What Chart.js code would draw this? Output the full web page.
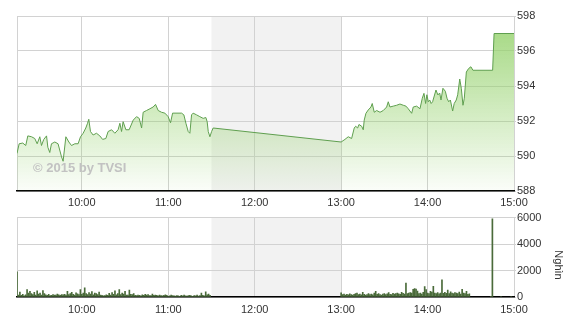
<!DOCTYPE html>
<html>
<head>
<meta charset="utf-8">
<script src="https://cdn.jsdelivr.net/npm/chart.js@4.4.0/dist/chart.umd.min.js"></script>
<style>
  html, body { margin: 0; padding: 0; background: #fff; }
  #wrap { position: relative; width: 570px; height: 320px; }
  #priceChart { position: absolute; left: 0; top: 0; }
  #volChart { position: absolute; left: 0; top: 210px; }
</style>
</head>
<body>
<div id="wrap">
  <canvas id="priceChart" width="570" height="210"></canvas>
  <canvas id="volChart" width="570" height="110"></canvas>
</div>
<script>
// session range and ticks (minutes of day shown as HH:MM)
const sessionStart = "09:15";
const sessionEnd = "15:00";
const hourTicks = ["10:00", "11:00", "12:00", "13:00", "14:00", "15:00"];
const lunchBreak = ["11:30", "13:00"];

const priceTicks = [588, 590, 592, 594, 596, 598];
const volumeTicks = [0, 2000, 4000, 6000];

// price line
const priceTimes = [
  "09:15:00","09:16:30","09:19:00","09:21:05","09:22:30","09:25:05","09:27:20","09:29:00","09:30:50","09:32:00",
  "09:33:35","09:35:30","09:36:25","09:37:45","09:38:55","09:41:15","09:43:30","09:45:55","09:47:00","09:48:55",
  "09:51:00","09:52:50","09:55:10","09:57:25","09:59:05","10:00:55","10:02:45","10:03:58","10:04:50","10:06:00",
  "10:07:50","10:10:10","10:12:30","10:14:25","10:16:40","10:18:15","10:20:40","10:22:55","10:25:10","10:26:25",
  "10:27:35","10:28:40","10:30:35","10:32:50","10:35:40","10:38:00","10:39:50","10:41:30","10:42:35","10:44:55",
  "10:47:15","10:49:30","10:51:10","10:53:00","10:55:20","10:57:40","10:59:55","11:01:35","11:03:00","11:09:15",
  "11:10:50","11:12:15","11:13:50","11:15:00","11:16:10","11:17:15","11:19:40","11:21:55","11:24:15","11:26:05",
  "11:27:00","11:27:45","11:28:55","11:30:05","11:31:10",
  "13:00:00","13:02:40","13:04:56","13:07:17","13:09:06","13:10:05","13:11:28","13:12:22","13:14:15","13:15:21",
  "13:16:02","13:17:13","13:18:49","13:20:42","13:21:36","13:23:00","13:24:40","13:27:00","13:29:15","13:31:35",
  "13:32:43","13:33:53","13:36:10","13:38:32","13:40:50","13:43:08","13:45:00","13:46:36","13:48:58","13:50:04",
  "13:52:26","13:54:44","13:56:20","13:57:30","13:58:40","13:59:30","14:00:30","14:01:30","14:02:30","14:03:30",
  "14:05:50","14:07:10","14:08:25","14:09:20","14:10:40","14:12:20","14:13:30","14:14:40","14:15:50","14:17:25",
  "14:18:30","14:19:55","14:20:55","14:22:20","14:23:25","14:24:35","14:25:30","14:26:55","14:28:30","14:30:05",
  "14:31:30","14:45:10","14:46:10","15:00:00"
];
const prices = [
  590.15,590.7,590.74,590.6,591.15,591.1,591.0,590.7,591.1,590.6,
  590.95,591.15,590.5,590.2,590.7,590.8,590.7,589.95,589.7,591.1,
  590.8,590.6,590.7,590.7,591.1,591.3,591.6,591.87,592.1,591.4,
  591.2,591.3,591.15,590.95,591.0,591.4,591.5,591.3,591.5,591.87,
  591.4,591.96,591.5,591.5,592.05,592.25,592.15,591.6,592.5,592.6,
  592.7,592.8,592.95,592.6,592.5,592.45,592.25,591.9,592.45,592.45,
  592.35,591.87,591.4,591.3,592.35,592.45,592.35,592.25,592.15,592.2,
  591.96,591.4,591.1,591.4,591.6,
  590.8,590.95,591.1,591.0,591.6,591.7,591.6,591.8,591.7,591.5,
  592.05,592.44,592.63,592.8,593.0,592.5,592.6,592.5,592.6,592.8,
  593.1,592.8,592.85,592.9,592.97,592.9,592.85,592.7,592.44,592.8,
  592.85,592.7,593.3,593.58,593.0,593.5,593.1,593.2,593.0,593.1,
  593.77,593.49,593.6,593.2,593.87,593.7,593.3,593.1,593.2,592.57,
  593.0,593.2,593.5,594.4,593.87,592.9,593.3,594.8,595.0,595.1,
  594.9,594.9,597.0,597.0
];

// volume, one bar per minute (thousands)
const morningStart = "09:15";
const morningVolumes = [
  1900,150,380,120,200,90,160,560,300,420,
  260,180,350,140,470,220,300,150,480,250,
  160,120,200,110,130,180,140,150,220,160,
  130,190,170,210,150,420,180,260,350,200,
  150,320,240,180,560,200,300,700,250,180,
  340,220,410,160,300,260,180,380,140,120,
  90,110,160,120,280,150,330,200,460,170,
  250,560,180,300,220,420,150,140,520,200,
  180,260,130,110,150,120,90,160,130,200,
  140,180,110,100,220,130,150,120,90,140,
  110,80,130,160,120,60,90,140,100,80,
  70,110,90,60,120,80,150,90,70,100,
  130,80,60,110,90,140,70,100,300,120,
  90,400,160,220,130
];
const afternoonStart = "13:00";
const afternoonVolumes = [
  320,180,220,140,200,160,240,180,150,210,
  260,300,180,220,160,350,200,140,190,250,
  180,230,160,300,420,200,260,180,150,220,
  260,190,240,330,210,180,280,220,260,300,
  240,200,350,280,220,1050,260,300,340,300,
  580,640,600,450,260,300,220,350,780,560,
  300,260,420,380,800,300,260,340,240,300,
  1300,280,360,280,520,250,400,300,260,340,
  300,260,380,220,580,300,260,420,200,240
];
const closingTimes = ["14:44", "14:45", "14:51", "14:58"];
const closingVolumes = [50, 5900, 40, 40];

function toMin(t) {
  const p = t.split(":").map(Number);
  return p[0] * 60 + p[1] + (p[2] || 0) / 60;
}
function fmt(v) {
  const h = Math.floor(v / 60), m = Math.round(v % 60);
  return h + ":" + String(m).padStart(2, "0");
}

const xMin = toMin(sessionStart), xMax = toMin(sessionEnd);
const FONT = { family: "Arial, 'Liberation Sans', sans-serif", size: 11 };
const GRID = "#d2d2d2";

const pricePoints = priceTimes.map((t, i) => ({ x: toMin(t), y: prices[i] }));
const volPoints = [];
morningVolumes.forEach((v, i) => volPoints.push({ x: toMin(morningStart) + i, y: v }));
afternoonVolumes.forEach((v, i) => volPoints.push({ x: toMin(afternoonStart) + i, y: v }));
closingTimes.forEach((t, i) => volPoints.push({ x: toMin(t), y: closingVolumes[i] }));

const lunchBand = {
  id: "lunchBand",
  beforeDraw(chart) {
    const { ctx, chartArea: a, scales: { x } } = chart;
    const x0 = x.getPixelForValue(toMin(lunchBreak[0]));
    const x1 = x.getPixelForValue(toMin(lunchBreak[1]));
    ctx.save();
    ctx.fillStyle = "#f2f2f2";
    ctx.fillRect(x0, a.top, x1 - x0, a.bottom - a.top);
    ctx.restore();
  }
};

const watermark = {
  id: "watermark",
  afterDatasetsDraw(chart) {
    const ctx = chart.ctx;
    ctx.save();
    ctx.font = "bold 13px Arial, 'Liberation Sans', sans-serif";
    ctx.fillStyle = "#c2c2c2";
    ctx.textBaseline = "middle";
    ctx.fillText("\u00a9 2015 by TVSI", 33, 168);
    ctx.restore();
  }
};

const unitLabel = {
  id: "unitLabel",
  afterDraw(chart) {
    const ctx = chart.ctx;
    ctx.save();
    ctx.translate(558, 55);
    ctx.rotate(Math.PI / 2);
    ctx.font = "11px Arial, 'Liberation Sans', sans-serif";
    ctx.fillStyle = "#333";
    ctx.textAlign = "center";
    ctx.textBaseline = "middle";
    ctx.fillText("Nghìn", 0, 0);
    ctx.restore();
  }
};

function xScale(height, pad) {
  return {
    type: "linear",
    min: xMin,
    max: xMax,
    offset: false,
    afterBuildTicks: axis => {
      axis.ticks = [xMin].concat(hourTicks.map(toMin)).map(v => ({ value: v }));
    },
    afterFit: axis => { axis.height = height; },
    grid: { color: GRID, drawTicks: false, offset: false },
    border: { color: "#000", width: 1.5 },
    ticks: {
      font: FONT,
      color: "#333",
      padding: pad,
      maxRotation: 0,
      autoSkip: false,
      callback: v => (v === xMin ? "" : fmt(v))
    }
  };
}

function yScale(ticks) {
  return {
    position: "right",
    min: ticks[0],
    max: ticks[ticks.length - 1],
    afterBuildTicks: axis => { axis.ticks = ticks.map(v => ({ value: v })); },
    afterFit: axis => { axis.width = 56; },
    grid: { color: GRID, tickLength: 2 },
    border: { display: false },
    ticks: { font: FONT, color: "#333", padding: 1, callback: v => String(v) }
  };
}

new Chart(document.getElementById("priceChart"), {
  type: "line",
  data: {
    datasets: [{
      data: pricePoints,
      borderColor: "#5f9f4f",
      borderWidth: 1,
      pointRadius: 0,
      tension: 0,
      fill: "start",
      backgroundColor: ctx => {
        const a = ctx.chart.chartArea;
        if (!a) return "rgba(150,210,110,0.3)";
        const g = ctx.chart.ctx.createLinearGradient(0, a.top, 0, a.bottom);
        g.addColorStop(0, "rgba(150,210,110,0.9)");
        g.addColorStop(1, "rgba(150,210,110,0.04)");
        return g;
      }
    }]
  },
  options: {
    responsive: false,
    animation: false,
    layout: { padding: { left: 17, top: 16, right: 0, bottom: 0 } },
    plugins: { legend: { display: false }, tooltip: { enabled: false } },
    scales: { x: xScale(19, 5), y: yScale(priceTicks) }
  },
  plugins: [lunchBand, watermark]
});

new Chart(document.getElementById("volChart"), {
  type: "bar",
  data: {
    datasets: [{
      data: volPoints,
      backgroundColor: "#4a6b3a",
      barThickness: 1,
      grouped: false
    }]
  },
  options: {
    responsive: false,
    animation: false,
    layout: { padding: { left: 17, top: 4, right: 0, bottom: 0 } },
    plugins: { legend: { display: false }, tooltip: { enabled: false } },
    scales: { x: xScale(23, 6), y: yScale(volumeTicks) }
  },
  plugins: [lunchBand, unitLabel]
});
</script>
</body>
</html>
